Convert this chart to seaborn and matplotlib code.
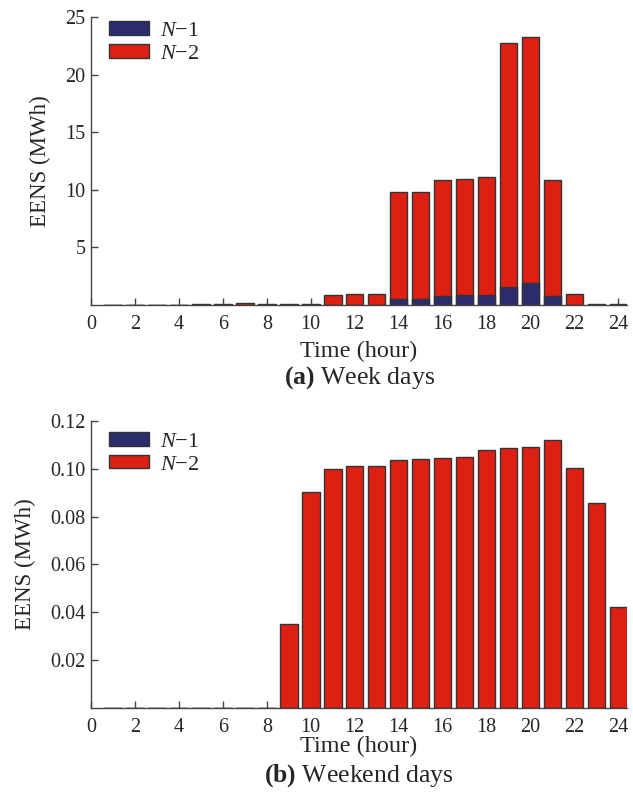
import numpy as np
import pandas as pd
import matplotlib
matplotlib.use("Agg")
import matplotlib.pyplot as plt
import seaborn as sns

# ---- data ----
hours = list(range(1, 25))
week_n1 = [0, 0, 0, 0, 0, 0, 0, 0, 0, 0,
           0, 0, 0, 0.49, 0.49, 0.78, 0.87, 0.87, 1.59, 1.88, 0.78, 0, 0, 0]
week_total = [0, 0, 0, 0, 0.05, 0.08, 0.15, 0.12, 0.10, 0.12,
              0.89, 0.96, 0.96, 9.83, 9.78, 10.82, 10.96, 11.14, 22.72, 23.24, 10.85, 0.95, 0.10, 0.12]
wkend_n1 = [0.0] * 24
wkend_total = [0, 0, 0, 0, 0, 0, 0, 0, 0.0350, 0.0901,
               0.1000, 0.1010, 0.1010, 0.1035, 0.1042, 0.1046, 0.1050, 0.1078, 0.1088, 0.1090,
               0.1119, 0.1001, 0.0857, 0.0421]
series_labels = ["$N$\u22121", "$N$\u22122"]
week_yticks = [5, 10, 15, 20, 25]
wkend_yticks = [0.02, 0.04, 0.06, 0.08, 0.10, 0.12]
xticks = list(range(0, 25, 2))

RED = "#DE2013"
BLUE = "#2B2C6C"
EDGE = "#333333"

sns.set_theme(style="white")
plt.rcParams["font.family"] = ["Liberation Serif", "DejaVu Serif"]
plt.rcParams["mathtext.fontset"] = "custom"
plt.rcParams["mathtext.it"] = "Liberation Serif:italic"
plt.rcParams["mathtext.rm"] = "Liberation Serif"
plt.rcParams["mathtext.bf"] = "Liberation Serif:bold"

fig = plt.figure(figsize=(6.33, 7.96), dpi=100)
ax1 = fig.add_axes([0.1438, 0.6168, 0.847, 0.3618])
ax2 = fig.add_axes([0.1438, 0.1102, 0.847, 0.3613])


def draw(ax, n1, total, yticks, ylim, fmt, legend_y, xlabelpad):
    df = pd.DataFrame({"hour": hours, "n1": n1, "total": total})
    sns.barplot(data=df, x="hour", y="total", native_scale=True, width=0.8,
                color=RED, saturation=1, edgecolor=EDGE, linewidth=1.0,
                errorbar=None, label=series_labels[1], ax=ax)
    sns.barplot(data=df, x="hour", y="n1", native_scale=True, width=0.8,
                color=BLUE, saturation=1, edgecolor=EDGE, linewidth=1.0,
                errorbar=None, label=series_labels[0], ax=ax)
    ax.set_xlim(0, 24.4)
    ax.set_ylim(*ylim)
    ax.set_xticks(xticks)
    ax.set_xticklabels([str(t) for t in xticks])
    ax.set_yticks(yticks)
    ax.set_yticklabels([fmt.format(t) for t in yticks])
    for s in ["top", "right"]:
        ax.spines[s].set_visible(False)
    for s in ["left", "bottom"]:
        ax.spines[s].set_color("#444444")
        ax.spines[s].set_linewidth(1.0)
    ax.tick_params(axis="both", direction="in", length=5, width=1.0,
                   color="#444444", labelsize=14.5, pad=4,
                   left=True, bottom=True)
    ax.tick_params(axis="x", pad=7)
    ax.set_xlabel("Time (hour)", fontsize=17.5, labelpad=xlabelpad)
    ax.set_ylabel("EENS (MWh)", fontsize=16.5, labelpad=10)
    h, l = ax.get_legend_handles_labels()
    order = [l.index(series_labels[0]), l.index(series_labels[1])]
    ax.legend([h[i] for i in order], [l[i] for i in order],
              loc="upper left", bbox_to_anchor=(0.034, legend_y),
              frameon=False, fontsize=16, handlelength=1.8, handleheight=0.55,
              handletextpad=0.5, labelspacing=0.15, borderpad=0, borderaxespad=0)


draw(ax1, week_n1, week_total, week_yticks, (0, 25), "{:g}", 0.985, 5)
draw(ax2, wkend_n1, wkend_total, wkend_yticks, (0, 0.12), "{:.2f}", 0.96, -1)

fig.text(0.5675, 1 - 378 / 796, r"$\mathbf{(a)}$ Week days", ha="center", va="center", fontsize=18.5)
fig.text(0.5675, 1 - 776 / 796, r"$\mathbf{(b)}$ Weekend days", ha="center", va="center", fontsize=18.5)

fig.savefig("out.png", dpi=100, facecolor="white")
